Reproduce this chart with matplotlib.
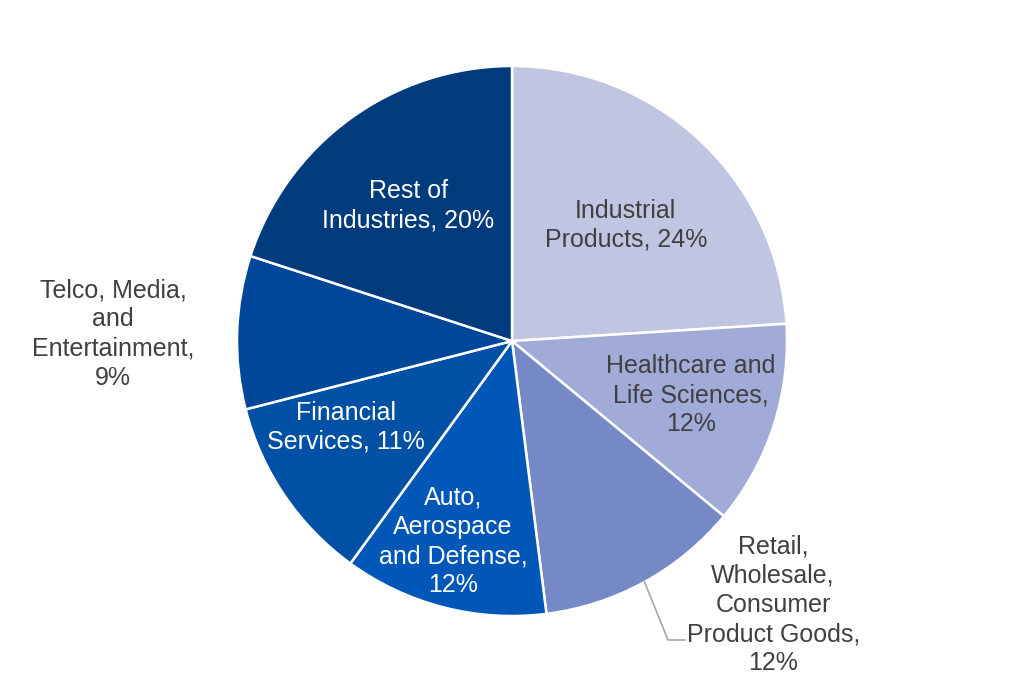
import numpy as np
import matplotlib.pyplot as plt

# Chart data
industries = [
    'Industrial\nProducts, 24%',
    'Healthcare and\nLife Sciences,\n12%',
    'Retail,\nWholesale,\nConsumer\nProduct Goods,\n12%',
    'Auto,\nAerospace\nand Defense,\n12%',
    'Financial\nServices, 11%',
    'Telco, Media,\nand\nEntertainment,\n9%',
    'Rest of\nIndustries, 20%',
]
shares = [24, 12, 12, 12, 11, 9, 20]
colors = ['#C0C6E2', '#A1ABD7', '#7689C7', '#0057B8', '#0050A5', '#00479A', '#003B7E']
text_colors = ['#404040', '#404040', '#404040', 'white', 'white', '#404040', 'white']

# Label placement (radius in pie units, angle shift in degrees from wedge middle)
label_radius = [0.59, 0.68, 1.35, 0.76, 0.68, 1.45, 0.62]
label_shift = [-1.3, 1.1, 15.9, -2.0, -6.7, 0.8, 1.4]

plt.rcParams['font.family'] = ['Liberation Sans', 'DejaVu Sans']

fig = plt.figure(figsize=(10.24, 6.83), dpi=100)
ax = fig.add_axes([0, 0, 1, 1])

R = 275.0
wedges, _ = ax.pie(shares, colors=colors, startangle=90, counterclock=False,
                   radius=1.0, wedgeprops=dict(edgecolor='white', linewidth=1.8))

for w, lab, tc, r, sh in zip(wedges, industries, text_colors, label_radius, label_shift):
    mid = np.deg2rad((w.theta1 + w.theta2) / 2 + sh)
    ax.text(r * np.cos(mid), r * np.sin(mid), lab, ha='center', va='center',
            color=tc, fontsize=18, linespacing=1.27)

# Leader line for the Retail slice
w = wedges[2]
mid = np.deg2rad((w.theta1 + w.theta2) / 2)
p0 = np.array([np.cos(mid), np.sin(mid)])
p1 = np.array([156 / R, -299 / R])
p2 = np.array([173 / R, -299 / R])
ax.plot([p0[0], p1[0], p2[0]], [p0[1], p1[1], p2[1]], color='#A6A6A6', linewidth=1.2)

ax.set_xlim(-512 / R, 512 / R)
ax.set_ylim(-342 / R, 341 / R)
ax.set_aspect('equal')
ax.axis('off')

fig.savefig('out.png', dpi=100, facecolor='white')
